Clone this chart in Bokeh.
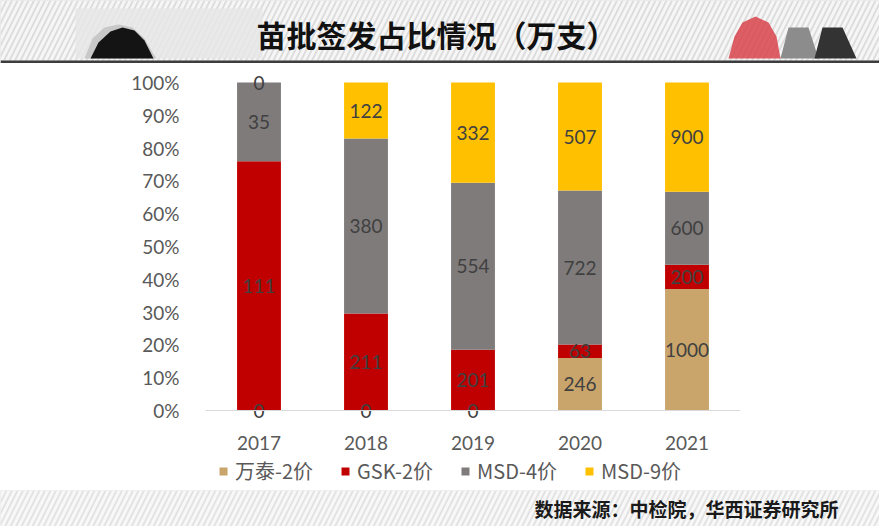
from bokeh.plotting import figure
from bokeh.layouts import column
from bokeh.models import (ColumnDataSource, FactorRange, Range1d, FixedTicker,
                          NumeralTickFormatter, Legend, LegendItem)
from bokeh.core.properties import value
from bokeh.embed import file_html
from bokeh.resources import INLINE

# ---------------- data ----------------
years = ["2017", "2018", "2019", "2020", "2021"]
series = ["万泰-2价", "GSK-2价", "MSD-4价", "MSD-9价"]
wantai2 = [0, 0, 0, 246, 1000]
gsk2 = [111, 211, 201, 63, 200]
msd4 = [35, 380, 554, 722, 600]
msd9 = [0, 122, 332, 507, 900]
y_ticks = [0, 0.1, 0.2, 0.3, 0.4, 0.5, 0.6, 0.7, 0.8, 0.9, 1.0]
title_text = "苗批签发占比情况（万支）"
source_text = "数据来源：中检院，华西证券研究所"

colors = ["#C9A46B", "#C00000", "#7F7B7B", "#FFC000"]
W = 879
CJK = "Noto Sans CJK SC"
NUM = "Lato"


def deco_fig(h, bg):
    f = figure(width=W, height=h, x_range=Range1d(0, W), y_range=Range1d(h, 0),
               toolbar_location=None, output_backend="svg", min_border=0)
    f.axis.visible = False
    f.grid.visible = False
    f.outline_line_color = None
    f.background_fill_color = bg
    f.border_fill_color = bg
    return f


# ---------------- header ----------------
hdr = deco_fig(63, "#dcdcdc")
hdr.quad(left=0, right=W, top=0, bottom=60, fill_color="#dcdcdc", line_color=None,
         hatch_pattern="/", hatch_color="white", hatch_alpha=0.75,
         hatch_scale=11, hatch_weight=3)
hdr.quad(left=75, right=262, top=8, bottom=58, fill_color="#e6e6e6", fill_alpha=0.85, line_color=None)
# decorative blobs (picture artefacts of the source slide)
hdr.patch(x=[84, 92, 104, 118, 132, 144, 152, 156], y=[58, 38, 27, 24, 27, 38, 52, 58],
          fill_color="#c8c8c8", line_color=None)
hdr.patch(x=[90, 98, 110, 122, 134, 144, 150, 153], y=[58, 42, 31, 27, 30, 40, 52, 58],
          fill_color="#141414", line_color=None)
hdr.patch(x=[728, 734, 742, 755, 768, 776, 780], y=[58, 36, 22, 16, 22, 36, 58],
          fill_color="#d8434b", fill_alpha=0.85, line_color=None)
hdr.patch(x=[780, 788, 808, 818], y=[58, 27, 27, 58], fill_color="#8c8c8c", line_color=None)
hdr.patch(x=[814, 822, 842, 856], y=[58, 27, 27, 58], fill_color="#333333", line_color=None)
hdr.quad(left=0, right=W, top=60, bottom=63, fill_color="#3d3d3d", line_color=None)
hdr.text(x=[436], y=[33], text=[title_text], text_align="center", text_baseline="middle",
         text_font=value(CJK), text_font_style="bold", text_font_size="30px",
         text_color="#111111")

# ---------------- chart ----------------
totals = [a + b + c + d for a, b, c, d in zip(wantai2, gsk2, msd4, msd9)]
shares = {}
for name, vals in zip(series, [wantai2, gsk2, msd4, msd9]):
    shares[name] = [v / t for v, t in zip(vals, totals)]

src = ColumnDataSource(dict(year=years, **shares))

p = figure(width=W, height=427, x_range=FactorRange(*years, range_padding=0),
           y_range=Range1d(-80 / 328, 1 + 16 / 328), toolbar_location=None,
           output_backend="svg",
           min_border_left=205, min_border_right=139, min_border_top=3,
           min_border_bottom=0)
p.outline_line_color = None
p.grid.visible = False

rends = p.vbar_stack(series, x="year", width=0.41, source=src, color=colors,
                     line_color=None)

# value labels
lab_x, lab_y, lab_t = [], [], []
for i, y in enumerate(years):
    base = 0.0
    for name, vals in zip(series, [wantai2, gsk2, msd4, msd9]):
        h = shares[name][i]
        lab_x.append(y)
        lab_y.append(base + h / 2)
        lab_t.append(str(vals[i]))
        base += h
p.text(x=lab_x, y=lab_y, text=lab_t, text_align="center", text_baseline="middle",
       text_font=value(NUM), text_font_size="19px", text_color="#404040")

p.yaxis.ticker = FixedTicker(ticks=y_ticks)
p.yaxis.formatter = NumeralTickFormatter(format="0%")
p.yaxis.axis_line_color = None
p.yaxis.major_tick_line_color = None
p.yaxis.minor_tick_line_color = None
p.yaxis.major_label_standoff = 20
p.yaxis.major_label_text_font = NUM
p.yaxis.major_label_text_font_size = "19px"
p.yaxis.major_label_text_color = "#595959"

p.xaxis.fixed_location = 0
p.xaxis.axis_line_color = "#d9d9d9"
p.xaxis.major_tick_line_color = None
p.xaxis.minor_tick_line_color = None
p.xaxis.major_label_standoff = 19
p.xaxis.major_label_text_font = NUM
p.xaxis.major_label_text_font_size = "19px"
p.xaxis.major_label_text_color = "#595959"

legend = Legend(items=[LegendItem(label=s, renderers=[r]) for s, r in zip(series, rends)],
                orientation="horizontal", location=(13, 5),
                glyph_width=10, glyph_height=10, label_standoff=7, spacing=27,
                padding=0, margin=0, border_line_color=None, background_fill_alpha=0,
                label_text_font=CJK, label_text_font_size="20px",
                label_text_color="#595959")
p.add_layout(legend, "center")

# ---------------- footer ----------------
ftr = deco_fig(36, "#e2e2e2")
ftr.quad(left=0, right=W, top=0, bottom=36, fill_color="#e2e2e2", line_color=None,
         hatch_pattern="/", hatch_color="white", hatch_alpha=0.75,
         hatch_scale=11, hatch_weight=3)
ftr.text(x=[838], y=[18], text=[source_text], text_align="right", text_baseline="middle",
         text_font=value(CJK), text_font_style="bold", text_font_size="19px",
         text_color="#1a1a1a")

layout = column(column(hdr), p, column(ftr), spacing=0)
open("out.html", "w").write(file_html(layout, INLINE))
